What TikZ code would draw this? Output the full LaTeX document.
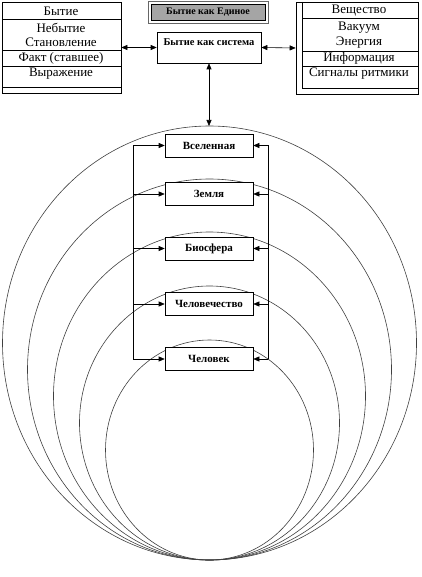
\documentclass[tikz,border=0pt]{standalone}
\usepackage{fontspec}
\setmainfont{Liberation Serif}
\usetikzlibrary{arrows.meta}
\definecolor{boxgray}{RGB}{165,165,165}
\begin{document}
\begin{tikzpicture}[x=1pt,y=-1pt,
  orb/.style={draw=black!75,line width=0.6pt},
  frame/.style={draw=black,line width=0.6pt},
  rowtext/.style={font=\fontsize{13}{14}\selectfont,inner sep=0pt,anchor=center},
  sphere/.style={draw=black,line width=0.6pt,fill=white,minimum width=88pt,minimum height=23pt,inner sep=0pt,font=\bfseries\fontsize{11}{12}\selectfont},
  arr/.style={line width=0.6pt,-{Triangle[length=6pt,width=5pt]}},
  darr/.style={line width=0.6pt,{Triangle[length=6pt,width=5pt]}-{Triangle[length=6pt,width=5pt]}}]
\useasboundingbox (0,0) rectangle (422,577);
% nested spheres
\foreach \rx/\ry in {207/217,182/190.5,156/164,130/137,104/110}{
  \draw[orb] (209.5,560-\ry) ellipse [x radius=\rx pt, y radius=\ry pt];
}
% left table
\node[frame,minimum width=119pt,minimum height=91pt,inner sep=0pt] (lt) at (61.5,47.5) {};
\draw[line width=0.6pt] (2,19) -- (121,19) (2,50) -- (121,50) (2,66) -- (121,66) (2,87) -- (121,87);
\node[rowtext] (l1) at (61,11) {Бытие};
\node[rowtext] (l2) at (61,27.5) {Небытие};
\node[rowtext] (l3) at (61,42.5) {Становление};
\node[rowtext] (l4) at (61,58) {Факт (ставшее)};
\node[rowtext] (l5) at (61,73.5) {Выражение};
% right table
\node[frame,minimum width=122pt,minimum height=92pt,inner sep=0pt] (rt) at (357,48) {};
\draw[line width=0.6pt] (302,2) -- (302,88) (302,18) -- (418,18) (302,51) -- (418,51) (302,66) -- (418,66) (302,88) -- (418,88);
\node[rowtext] (r1) at (359,11) {Вещество};
\node[rowtext] (r2) at (359,27.5) {Вакуум};
\node[rowtext] (r3) at (359,42.5) {Энергия};
\node[rowtext] (r4) at (359,58) {Информация};
\node[rowtext] (r5) at (359,73.5) {Сигналы ритмики};
% top gray box
\node[draw=black!60,line width=0.5pt,minimum width=120pt,minimum height=22pt,inner sep=0pt] (one) at (208,12) {};
\node[draw=black,fill=boxgray,line width=0.6pt,minimum width=114pt,minimum height=16pt,inner sep=0pt,font=\bfseries\fontsize{10}{11}\selectfont] (onein) at (208,12) {Бытие как Единое};
% system box
\node[frame,minimum width=104pt,minimum height=31pt,inner sep=0pt] (sys) at (209,47.5) {};
\node[inner sep=0pt,font=\bfseries\fontsize{10.5}{11}\selectfont] (syst) at (209,42) {Бытие как система};
\coordinate (top) at (209,126);
\draw[darr] (lt.east) -- (sys.west);
\draw[darr] (rt.west) -- (sys.east);
\draw[darr] (sys.south) -- (top);
% sphere boxes
\node[sphere] (b1) at (209,145.5) {Вселенная};
\node[sphere] (b2) at (209,194) {Земля};
\node[sphere] (b3) at (209,248.5) {Биосфера};
\node[sphere] (b4) at (209,304) {Человечество};
\node[sphere] (b5) at (209,359) {Человек};
\foreach \i/\yy in {1/145.5,2/194,3/248.5,4/304,5/359}{
  \coordinate (L\i) at (133,\yy);
  \coordinate (R\i) at (268,\yy);
}
\draw[line width=0.6pt] (L1) -- (L5) (R1) -- (R5);
\foreach \i in {1,...,5}{
  \draw[arr] (L\i) -- (b\i.west);
  \draw[arr] (R\i) -- (b\i.east);
}
\end{tikzpicture}
\end{document}
